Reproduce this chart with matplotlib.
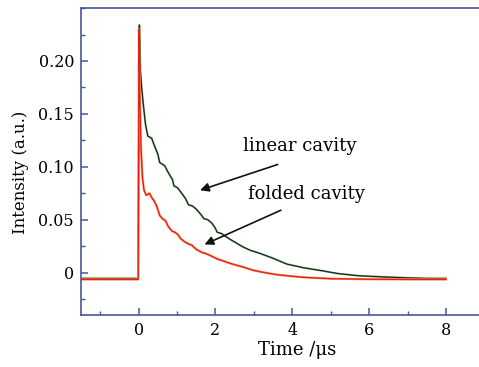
import numpy as np
import matplotlib
matplotlib.use("Agg")
import matplotlib.pyplot as plt
from matplotlib.ticker import MultipleLocator

plt.rcParams['font.family'] = ['DejaVu Serif']
plt.rcParams['mathtext.fontset'] = 'dejavuserif'

# linear cavity trace (time in us, intensity in a.u.)
linear_t = [-1.5, -0.01, 0.02, 0.05, 0.08, 0.12, 0.18, 0.24, 0.34, 0.40, 0.50,
            0.55, 0.68, 0.78, 0.88, 0.92, 1.02, 1.12, 1.22, 1.30, 1.40, 1.50,
            1.62, 1.70, 1.80, 1.90, 1.98, 2.05, 2.15, 2.40, 2.73, 2.91, 3.17,
            3.50, 3.86, 4.30, 4.73, 5.20, 5.72, 6.30, 7.00, 7.50, 8.00]
linear_i = [-0.0055, -0.0055, 0.234, 0.190, 0.175, 0.160, 0.140, 0.129, 0.127, 0.121, 0.112,
            0.104, 0.101, 0.094, 0.088, 0.082, 0.080, 0.075, 0.070, 0.064, 0.063, 0.060,
            0.055, 0.051, 0.050, 0.047, 0.043, 0.038, 0.037, 0.031, 0.024, 0.021, 0.018,
            0.0135, 0.008, 0.0045, 0.002, -0.001, -0.003, -0.004, -0.005, -0.0055, -0.0055]

# folded cavity trace
folded_t = [-1.5, -0.01, 0.01, 0.03, 0.06, 0.10, 0.14, 0.20, 0.28, 0.34, 0.40, 0.47,
            0.55, 0.62, 0.70, 0.78, 0.88, 0.95, 1.02, 1.10, 1.20, 1.30, 1.38, 1.50,
            1.65, 1.75, 1.90, 2.04, 2.20, 2.40, 2.74, 3.00, 3.20, 3.60, 4.00, 4.30,
            5.00, 6.00, 7.00, 8.00]
folded_i = [-0.0065, -0.0065, 0.230, 0.170, 0.120, 0.090, 0.078, 0.073, 0.075, 0.071, 0.068, 0.063,
            0.054, 0.051, 0.049, 0.043, 0.039, 0.038, 0.036, 0.032, 0.029, 0.027, 0.026, 0.022,
            0.019, 0.018, 0.0155, 0.013, 0.011, 0.0085, 0.005, 0.002, 0.0005, -0.002, -0.0035, -0.0045,
            -0.0058, -0.0063, -0.0065, -0.0065]

fig = plt.figure(figsize=(4.79, 3.67), dpi=100)
ax = fig.add_axes([0.169, 0.142, 0.831, 0.836])

ax.plot(linear_t, linear_i, color='#6aa46a', lw=1.4)
ax.plot(linear_t, linear_i, color='#101810', lw=0.7)
ax.plot(folded_t, folded_i, color='#f79060', lw=1.6)
ax.plot(folded_t, folded_i, color='#ee1c10', lw=0.9)

ax.set_xlim(-1.5, 8.86)
ax.set_ylim(-0.04, 0.25)
ax.xaxis.set_major_locator(MultipleLocator(2))
ax.xaxis.set_minor_locator(MultipleLocator(1))
ax.yaxis.set_major_locator(MultipleLocator(0.05))
ax.yaxis.set_minor_locator(MultipleLocator(0.025))
ax.set_yticks([0, 0.05, 0.10, 0.15, 0.20])
ax.set_yticklabels(['0', '0.05', '0.10', '0.15', '0.20'])

spine_col = '#4a569a'
for s in ['left', 'bottom', 'top']:
    ax.spines[s].set_color(spine_col)
    ax.spines[s].set_linewidth(1.2)
ax.spines['right'].set_visible(False)
ax.tick_params(which='both', direction='in', color=spine_col, labelsize=11.5, top=False, right=False)
ax.tick_params(which='major', length=5, width=1.1, pad=5)
ax.tick_params(which='minor', length=3, width=1.0)

ax.set_xlabel('Time /μs', fontsize=13)
ax.xaxis.set_label_coords(0.543, -0.085)
ax.set_ylabel('Intensity (a.u.)', fontsize=12)
ax.yaxis.set_label_coords(-0.13, 0.466)

ax.annotate('', xy=(1.53, 0.077), xytext=(3.69, 0.103),
            arrowprops=dict(arrowstyle='-|>', color='#111111', lw=1.2, mutation_scale=13))
ax.annotate('', xy=(1.65, 0.0255), xytext=(3.77, 0.060),
            arrowprops=dict(arrowstyle='-|>', color='#111111', lw=1.2, mutation_scale=13))
ax.text(2.73, 0.120, 'linear cavity', fontsize=13, va='center', ha='left')
ax.text(2.86, 0.0745, 'folded cavity', fontsize=13, va='center', ha='left')

fig.savefig('out.png', dpi=100)
